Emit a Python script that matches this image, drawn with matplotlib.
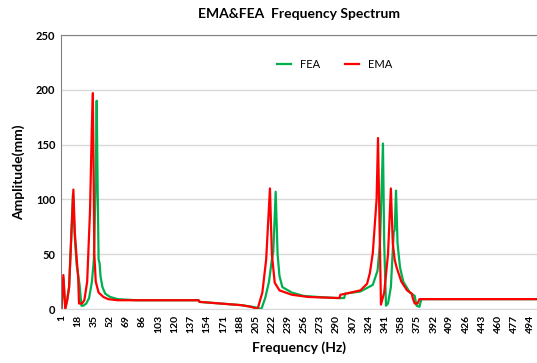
import matplotlib
matplotlib.use('Agg')
import matplotlib.pyplot as plt
import numpy as np

matplotlib.rcParams['font.family'] = ['Lato', 'DejaVu Sans']
matplotlib.rcParams['font.size'] = 8

# FEA (green) spectrum, knots
fea_freq = [1, 3, 5, 7, 9, 11, 13, 15, 17, 19, 20, 22, 24, 27, 30, 33, 35, 37, 38, 39,
            40, 41, 42, 44, 47, 52, 60, 80, 145, 146, 190, 205, 211, 215, 219, 222,
            223.5, 226, 228, 230, 233, 243, 255, 270, 290, 298, 299, 315, 328, 333,
            335.6, 338.7, 340, 341.9, 344, 347, 350, 351, 352.4, 354, 356.6, 360, 367,
            372, 374, 377, 379, 500]
fea_amp = [1, 28, 1, 8, 20, 60, 105, 65, 40, 28, 22, 3, 3, 5, 10, 25, 45, 120, 190, 110,
           45, 42, 30, 20, 14, 11, 9, 8, 8, 6.5, 3.5, 1.5, 0, 10, 25, 45,
           52, 107, 50, 30, 20, 15, 12, 11, 10, 10, 14, 16, 22, 35,
           60, 151, 60, 3, 5, 20, 70, 72, 108, 60, 38, 25, 15,
           12, 3, 2, 9, 9]

# EMA (red) spectrum
ema_freq = [1, 3, 5, 7, 9, 11, 13.5, 15, 17.3, 18.5, 19.4, 22.6, 25, 28, 31, 33, 34,
            35.5, 37, 40, 45, 50, 60, 100, 145, 146, 190, 200, 207, 212, 216, 220, 222,
            225, 230, 243, 260, 275, 293, 294, 305, 315, 322, 325, 328, 332, 333.5,
            336.6, 340, 344, 347, 349, 351, 353, 358, 364, 369, 370, 372, 375, 377, 500]
ema_amp = [1, 31, 0, 8, 20, 60, 109, 70, 42, 30, 5, 5, 8, 25, 90, 170, 197,
           50, 25, 15, 11, 9, 8, 8, 8, 6.5, 3.5, 2, 0, 15, 45, 110, 50,
           24, 17, 13, 11, 10.5, 10, 13, 15, 17, 23, 33, 51, 100, 156,
           4, 15, 50, 110, 60, 45, 38, 25, 17, 14, 10, 5, 5, 9, 9]

tick_vals = list(range(1, 495, 17))

fig = plt.figure(figsize=(5.37, 3.63), dpi=100)
ax = fig.add_axes([61 / 537, 54 / 363, 476 / 537, 274 / 363])

ax.plot(fea_freq, fea_amp, color='#00B050', lw=1.6, label='FEA')
ax.plot(ema_freq, ema_amp, color='#FF0000', lw=1.6, label='EMA')

ax.set_xlim(0.5, 500.5)
ax.set_ylim(0, 250)
ax.set_yticks(np.arange(0, 251, 50))
ax.set_xticks(tick_vals)
ax.set_xticklabels([str(t) for t in tick_vals], rotation=90, fontsize=7.5,
                   fontweight='bold')
for lab in ax.get_yticklabels():
    lab.set_fontweight('bold')
    lab.set_fontsize(8)
ax.tick_params(length=0, pad=4)
ax.yaxis.grid(True, color='#D9D9D9', lw=1)
ax.set_axisbelow(True)

ax.spines['right'].set_visible(False)
ax.spines['left'].set_color('#808080')
ax.spines['top'].set_color('#808080')
ax.spines['bottom'].set_color('#D9D9D9')

ax.set_title('EMA&FEA  Frequency Spectrum', fontsize=10, fontweight='bold', pad=12)
ax.set_xlabel('Frequency (Hz)', fontsize=10, fontweight='bold', labelpad=6)
ax.set_ylabel('Amplitude(mm)', fontsize=10, fontweight='bold', labelpad=8)

ax.legend(loc='center', bbox_to_anchor=(0.575, 0.894), ncol=2, frameon=False,
          handlelength=1.3, columnspacing=2.2, fontsize=8)

fig.savefig('out.png', dpi=100)
